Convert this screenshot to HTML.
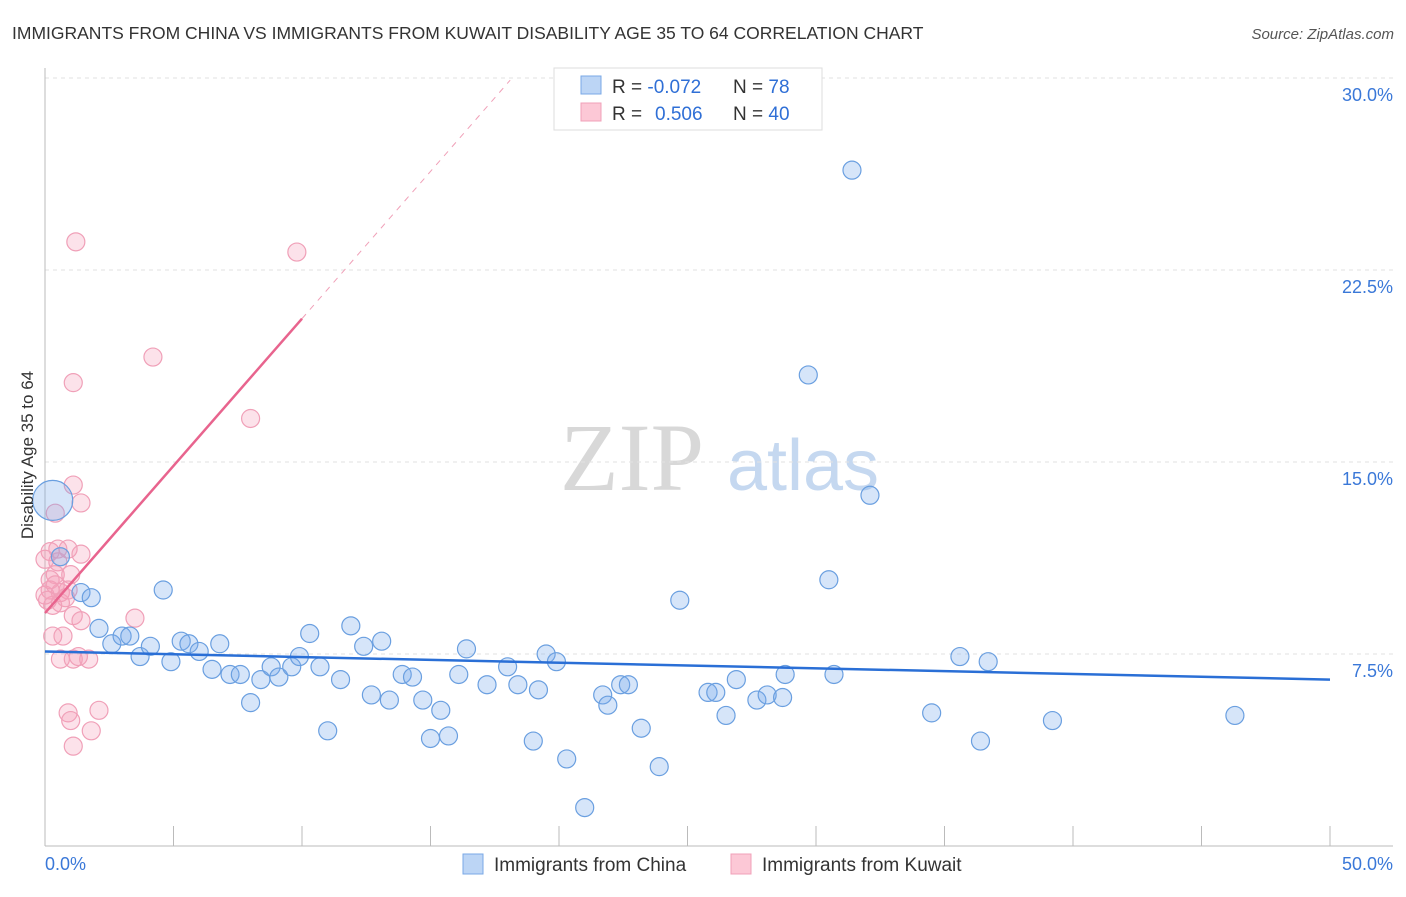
<!DOCTYPE html>
<html><head><meta charset="utf-8"><style>
body{margin:0;background:#fff;font-family:"Liberation Sans",sans-serif}
svg text{font-family:"Liberation Sans",sans-serif}
</style></head><body>
<svg width="1406" height="892" xmlns="http://www.w3.org/2000/svg">
<text x="12" y="39" font-size="17.5" fill="#333">IMMIGRANTS FROM CHINA VS IMMIGRANTS FROM KUWAIT DISABILITY AGE 35 TO 64 CORRELATION CHART</text>
<text x="1394" y="39" font-size="15" fill="#555" text-anchor="end" font-style="italic">Source: ZipAtlas.com</text>
<g>
<text x="632" y="490" font-size="96" fill="#d8d8d8" text-anchor="middle" font-family="Liberation Serif" style="font-family:'Liberation Serif',serif">ZIP</text>
<text x="803" y="490" font-size="72" fill="#c5d8f0" text-anchor="middle">atlas</text>
</g>
<g id="grid"></g>
<g id="axes"></g>
<g id="marks"></g>
<text transform="translate(33,455) rotate(-90)" font-size="17" fill="#333" text-anchor="middle">Disability Age 35 to 64</text>
<g>
<rect x="554" y="68" width="268" height="62" fill="#fff" stroke="#ddd"/>
<rect x="581" y="76" width="20" height="18" fill="#bcd5f5" stroke="#7aa8e6"/>
<rect x="581" y="103" width="20" height="18" fill="#fcc8d6" stroke="#f0a0b8"/>
<text x="612" y="93" font-size="19" fill="#333">R = <tspan fill="#2f6fd6">-0.072</tspan><tspan x="733">N = </tspan><tspan fill="#2f6fd6">78</tspan></text>
<text x="612" y="120" font-size="19" fill="#333">R = <tspan fill="#2f6fd6" x="655">0.506</tspan><tspan x="733">N = </tspan><tspan fill="#2f6fd6">40</tspan></text>
</g>
<g>
<rect x="463" y="854" width="20" height="20" fill="#bcd5f5" stroke="#7aa8e6"/>
<text x="494" y="871" font-size="19" fill="#333">Immigrants from China</text>
<rect x="731" y="854" width="20" height="20" fill="#fcc8d6" stroke="#f0a0b8"/>
<text x="762" y="871" font-size="19" fill="#333">Immigrants from Kuwait</text>
</g>
</svg>
<script>
const yTicks=[7.5,15,22.5,30];
const yTickLabels=["7.5%","15.0%","22.5%","30.0%"];
const xTickLabels=["0.0%","50.0%"];
const chinaX=[0.3,0.6,1.4,1.8,4.6,2.1,2.6,3.0,3.3,3.7,4.1,4.9,5.3,5.6,6.0,6.5,6.8,7.2,7.6,8.0,8.4,8.8,9.1,9.6,9.9,10.3,10.7,11.0,11.5,11.9,12.4,12.7,13.1,13.4,13.9,14.3,14.7,15.0,15.4,15.7,16.1,16.4,17.2,18.0,18.4,19.0,19.2,19.5,19.9,20.3,21.0,21.7,21.9,22.4,22.7,23.2,23.9,24.7,25.8,26.1,26.5,26.9,27.7,28.1,28.7,28.8,29.7,30.5,30.7,31.4,32.1,34.5,35.6,36.4,36.7,39.2,46.3];
const chinaY=[13.5,11.3,9.9,9.7,10.0,8.5,7.9,8.2,8.2,7.4,7.8,7.2,8.0,7.9,7.6,6.9,7.9,6.7,6.7,5.6,6.5,7.0,6.6,7.0,7.4,8.3,7.0,4.5,6.5,8.6,7.8,5.9,8.0,5.7,6.7,6.6,5.7,4.2,5.3,4.3,6.7,7.7,6.3,7.0,6.3,4.1,6.1,7.5,7.2,3.4,1.5,5.9,5.5,6.3,6.3,4.6,3.1,9.6,6.0,6.0,5.1,6.5,5.7,5.9,5.8,6.7,18.4,10.4,6.7,26.4,13.7,5.2,7.4,4.1,7.2,4.9,5.1];
const kuwaitX=[1.2,9.8,4.2,1.1,8.0,1.1,1.4,0.4,0.2,0.9,1.4,0.5,0.4,1.0,0.2,0.6,0.9,0.3,0.6,1.1,1.4,3.5,0.3,0.7,0.6,1.1,1.3,1.7,0.9,1.0,2.1,1.8,1.1,0.2,0.0,0.0,0.5,0.8,0.1,0.4];
const kuwaitY=[23.6,23.2,19.1,18.1,16.7,14.1,13.4,13.0,11.5,11.6,11.4,11.1,10.6,10.6,10.0,9.9,10.0,9.4,9.5,9.0,8.8,8.9,8.2,8.2,7.3,7.3,7.4,7.3,5.2,4.9,5.3,4.5,3.9,10.4,11.2,9.8,11.6,9.7,9.6,10.2];
const chinaTrend=[7.6,6.5];
const kuwaitTrend=[9.1,30];
const NS="http://www.w3.org/2000/svg";
const X0=45,X1=1330,Y0=846;
function sx(v){return X0+(v/50)*(X1-X0);}
function sy(v){return Y0-(v/7.5)*192;}
function mk(tag,attrs,parent){const e=document.createElementNS(NS,tag);for(const k in attrs)e.setAttribute(k,attrs[k]);parent.appendChild(e);return e;}
const grid=document.getElementById('grid'),axes=document.getElementById('axes'),marks=document.getElementById('marks');
yTicks.forEach((t,i)=>{
 const l=mk('line',{x1:45,x2:1393,y1:sy(t),y2:sy(t),stroke:'#e2e2e2','stroke-dasharray':'4,4'},grid);
 
 
 const tx=mk('text',{x:1393,y:sy(t)+23,'font-size':18,fill:'#3a78d8','text-anchor':'end'},grid);
 tx.textContent=yTickLabels[i];
 
 
});
const ax=mk('line',{x1:45,x2:1393,y1:846,y2:846,stroke:'#bbb'},axes);


const ay=mk('line',{x1:45,x2:45,y1:68,y2:846,stroke:'#bbb'},axes);


for(let i=0;i<=10;i++){const t=mk('line',{x1:sx(i*5),x2:sx(i*5),y1:826,y2:846,stroke:'#bbb'},axes);
 
 }
[[0,'start',45],[1,'end',1393]].forEach(([i,a,x])=>{const t=mk('text',{x:x,y:870,'font-size':18,fill:'#3a78d8','text-anchor':a},axes);t.textContent=xTickLabels[i];
 
 });
kuwaitX.forEach((x,i)=>{const c=mk('circle',{cx:sx(x),cy:sy(kuwaitY[i]),r:9,fill:'rgba(245,160,185,0.3)',stroke:'#f0a0b8','stroke-width':1.2},marks);
 
 });
chinaX.forEach((x,i)=>{const c=mk('circle',{cx:sx(x),cy:sy(chinaY[i]),r:i==0?20:9,fill:'rgba(120,170,235,0.3)',stroke:'#6a9fe0','stroke-width':1.2},marks);
 
 });
const slope=(kuwaitTrend[1]-kuwaitTrend[0]);
function ky(x){return kuwaitTrend[0]+x*1.15*(slope/20.9);}
const kd=mk('line',{x1:sx(10),y1:sy(ky(10)),x2:sx(18.1),y2:sy(ky(18.1)),stroke:'#f0a0b8','stroke-dasharray':'6,6','stroke-width':1},marks);


const kl=mk('line',{x1:sx(0),y1:sy(ky(0)),x2:sx(10),y2:sy(ky(10)),stroke:'#e8648e','stroke-width':2.5},marks);


const cl=mk('line',{x1:sx(0),y1:sy(chinaTrend[0]),x2:sx(50),y2:sy(chinaTrend[1]),stroke:'#2a6fd6','stroke-width':2.5},marks);


</script>
</body></html>
